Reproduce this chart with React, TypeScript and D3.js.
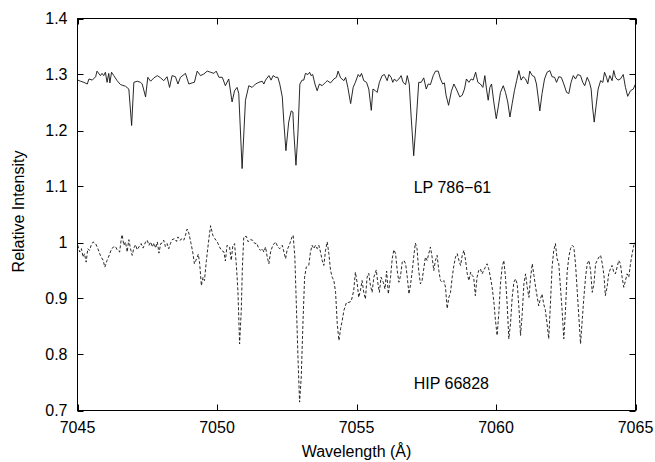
import React from "react";
import * as d3 from "d3";

// Normalised spectra: [wavelength (Å), relative intensity]
const lp78661: [number, number][] = [
  [7045.01,1.290],[7045.11,1.288],[7045.23,1.286],[7045.35,1.283],[7045.41,1.292],[7045.53,1.290],
  [7045.65,1.296],[7045.70,1.306],[7045.82,1.298],[7045.88,1.302],[7045.94,1.298],[7046.00,1.304],
  [7046.06,1.286],[7046.12,1.302],[7046.16,1.285],[7046.22,1.304],[7046.30,1.298],[7046.42,1.289],
  [7046.54,1.282],[7046.72,1.279],[7046.84,1.274],[7046.94,1.209],[7047.02,1.286],[7047.14,1.288],
  [7047.26,1.286],[7047.32,1.283],[7047.44,1.260],[7047.52,1.295],[7047.62,1.288],[7047.74,1.294],
  [7047.86,1.298],[7047.98,1.294],[7048.09,1.289],[7048.21,1.296],[7048.30,1.277],[7048.39,1.298],
  [7048.51,1.296],[7048.60,1.283],[7048.69,1.295],[7048.87,1.302],[7048.99,1.283],[7049.11,1.285],
  [7049.19,1.286],[7049.29,1.306],[7049.41,1.298],[7049.53,1.301],[7049.65,1.306],[7049.77,1.304],
  [7049.89,1.302],[7049.97,1.306],[7050.07,1.295],[7050.19,1.295],[7050.30,1.280],[7050.42,1.292],
  [7050.54,1.251],[7050.63,1.271],[7050.72,1.277],[7050.78,1.266],[7050.90,1.132],[7051.02,1.254],
  [7051.14,1.280],[7051.26,1.277],[7051.38,1.283],[7051.50,1.286],[7051.62,1.288],[7051.68,1.283],
  [7051.74,1.290],[7051.86,1.298],[7051.94,1.290],[7052.01,1.298],[7052.10,1.295],[7052.18,1.295],
  [7052.25,1.283],[7052.34,1.260],[7052.40,1.212],[7052.47,1.164],[7052.57,1.215],[7052.66,1.235],
  [7052.72,1.233],[7052.75,1.200],[7052.83,1.138],[7052.90,1.194],[7052.97,1.283],[7053.05,1.290],
  [7053.11,1.290],[7053.17,1.302],[7053.26,1.300],[7053.32,1.304],[7053.37,1.298],[7053.43,1.300],
  [7053.51,1.283],[7053.59,1.271],[7053.67,1.283],[7053.77,1.280],[7053.89,1.286],[7053.95,1.289],
  [7054.07,1.285],[7054.19,1.292],[7054.28,1.295],[7054.34,1.306],[7054.43,1.294],[7054.55,1.289],
  [7054.61,1.295],[7054.69,1.277],[7054.79,1.248],[7054.88,1.277],[7054.96,1.286],[7055.06,1.300],
  [7055.12,1.296],[7055.18,1.302],[7055.26,1.289],[7055.36,1.286],[7055.44,1.274],[7055.53,1.236],
  [7055.59,1.274],[7055.68,1.271],[7055.74,1.268],[7055.82,1.286],[7055.92,1.298],[7056.00,1.300],
  [7056.10,1.289],[7056.16,1.300],[7056.24,1.295],[7056.30,1.286],[7056.36,1.292],[7056.43,1.288],
  [7056.52,1.292],[7056.60,1.298],[7056.67,1.286],[7056.76,1.282],[7056.82,1.298],[7056.89,1.283],
  [7056.96,1.224],[7057.05,1.155],[7057.15,1.224],[7057.23,1.286],[7057.32,1.286],[7057.41,1.294],
  [7057.50,1.274],[7057.57,1.283],[7057.65,1.282],[7057.75,1.298],[7057.83,1.306],[7057.93,1.306],
  [7058.01,1.292],[7058.09,1.283],[7058.15,1.285],[7058.21,1.263],[7058.30,1.245],[7058.40,1.270],
  [7058.49,1.283],[7058.58,1.274],[7058.70,1.260],[7058.79,1.263],[7058.87,1.274],[7058.94,1.292],
  [7059.03,1.286],[7059.11,1.292],[7059.18,1.290],[7059.27,1.304],[7059.35,1.286],[7059.44,1.283],
  [7059.53,1.277],[7059.60,1.298],[7059.66,1.274],[7059.72,1.254],[7059.78,1.277],[7059.84,1.283],
  [7059.92,1.251],[7060.01,1.221],[7060.08,1.242],[7060.16,1.268],[7060.26,1.280],[7060.34,1.268],
  [7060.42,1.251],[7060.50,1.224],[7060.58,1.248],[7060.66,1.271],[7060.74,1.289],[7060.82,1.307],
  [7060.90,1.290],[7060.97,1.296],[7061.06,1.292],[7061.14,1.283],[7061.21,1.306],[7061.30,1.298],
  [7061.38,1.296],[7061.45,1.283],[7061.51,1.260],[7061.57,1.235],[7061.65,1.266],[7061.74,1.292],
  [7061.83,1.304],[7061.93,1.307],[7062.01,1.296],[7062.10,1.295],[7062.17,1.286],[7062.25,1.296],
  [7062.34,1.295],[7062.43,1.283],[7062.53,1.268],[7062.61,1.266],[7062.69,1.286],[7062.77,1.298],
  [7062.85,1.292],[7062.93,1.300],[7063.03,1.298],[7063.11,1.286],[7063.18,1.280],[7063.27,1.295],
  [7063.35,1.286],[7063.41,1.274],[7063.46,1.242],[7063.52,1.215],[7063.59,1.245],[7063.66,1.274],
  [7063.75,1.289],[7063.83,1.286],[7063.89,1.304],[7063.96,1.295],[7064.01,1.286],[7064.08,1.298],
  [7064.16,1.289],[7064.22,1.307],[7064.28,1.295],[7064.37,1.290],[7064.46,1.292],[7064.56,1.300],
  [7064.64,1.277],[7064.72,1.261],[7064.82,1.271],[7064.92,1.274],[7065.00,1.283],
];

const hip66828: [number, number][] = [
  [7045.01,0.995],[7045.08,0.983],[7045.14,0.989],[7045.20,0.974],[7045.25,0.980],[7045.31,0.965],
  [7045.37,0.989],[7045.43,0.986],[7045.49,0.995],[7045.56,1.001],[7045.65,0.998],[7045.73,0.989],
  [7045.82,0.977],[7045.92,0.968],[7045.98,0.956],[7046.06,0.968],[7046.16,0.980],[7046.22,0.989],
  [7046.30,0.992],[7046.36,0.993],[7046.42,0.987],[7046.51,0.983],[7046.57,1.007],[7046.60,1.014],
  [7046.66,0.995],[7046.72,1.001],[7046.78,0.983],[7046.84,1.005],[7046.90,0.989],[7046.96,0.977],
  [7047.02,0.990],[7047.08,0.996],[7047.14,0.987],[7047.20,0.992],[7047.28,0.998],[7047.35,0.990],
  [7047.44,1.001],[7047.50,1.004],[7047.56,0.995],[7047.62,1.001],[7047.68,0.992],[7047.74,0.999],
  [7047.80,0.990],[7047.86,1.001],[7047.92,0.981],[7047.98,0.998],[7048.03,0.999],[7048.09,1.004],
  [7048.15,0.993],[7048.21,0.998],[7048.27,0.989],[7048.33,0.998],[7048.39,1.005],[7048.48,1.007],
  [7048.55,1.002],[7048.60,1.010],[7048.67,1.004],[7048.75,1.007],[7048.81,1.004],[7048.87,1.013],
  [7048.93,1.024],[7048.99,1.017],[7049.07,0.998],[7049.13,0.983],[7049.19,0.962],[7049.27,0.971],
  [7049.33,0.979],[7049.38,0.962],[7049.44,0.923],[7049.50,0.938],[7049.55,0.932],[7049.62,0.968],
  [7049.71,1.007],[7049.77,1.030],[7049.85,1.013],[7049.92,1.007],[7050.01,1.001],[7050.09,0.992],
  [7050.16,0.986],[7050.25,0.983],[7050.30,0.967],[7050.36,0.995],[7050.45,0.992],[7050.51,0.968],
  [7050.57,0.995],[7050.63,0.998],[7050.69,0.962],[7050.75,0.914],[7050.81,0.819],[7050.87,0.879],
  [7050.91,0.956],[7050.96,1.010],[7051.05,1.011],[7051.12,1.001],[7051.20,1.005],[7051.28,1.004],
  [7051.36,0.998],[7051.42,0.999],[7051.50,0.989],[7051.56,0.986],[7051.62,0.989],[7051.68,0.983],
  [7051.74,0.992],[7051.80,0.974],[7051.86,0.962],[7051.92,0.983],[7052.00,0.995],[7052.10,1.001],
  [7052.18,0.992],[7052.25,0.989],[7052.34,0.995],[7052.40,0.983],[7052.46,0.971],[7052.51,0.986],
  [7052.61,0.998],[7052.69,1.010],[7052.73,1.013],[7052.79,0.974],[7052.85,0.879],[7052.91,0.783],
  [7052.96,0.715],[7053.02,0.760],[7053.08,0.855],[7053.14,0.938],[7053.20,0.956],[7053.29,0.959],
  [7053.35,0.983],[7053.41,0.995],[7053.47,0.989],[7053.53,0.995],[7053.59,0.989],[7053.65,0.995],
  [7053.71,0.983],[7053.77,0.968],[7053.83,0.959],[7053.89,0.986],[7053.95,1.001],[7054.01,0.980],
  [7054.07,0.950],[7054.13,0.938],[7054.19,0.932],[7054.25,0.911],[7054.31,0.855],[7054.37,0.825],
  [7054.43,0.846],[7054.49,0.861],[7054.55,0.879],[7054.64,0.893],[7054.73,0.893],[7054.81,0.895],
  [7054.90,0.914],[7054.96,0.947],[7055.02,0.929],[7055.08,0.902],[7055.14,0.914],[7055.20,0.932],
  [7055.26,0.911],[7055.32,0.899],[7055.38,0.938],[7055.44,0.945],[7055.50,0.923],[7055.56,0.911],
  [7055.62,0.938],[7055.71,0.951],[7055.76,0.929],[7055.82,0.911],[7055.88,0.938],[7055.96,0.929],
  [7056.02,0.917],[7056.08,0.949],[7056.14,0.908],[7056.22,0.938],[7056.28,0.971],[7056.34,0.987],
  [7056.40,0.980],[7056.46,0.950],[7056.52,0.929],[7056.58,0.941],[7056.64,0.965],[7056.70,0.968],
  [7056.76,0.962],[7056.82,0.938],[7056.88,0.908],[7056.94,0.926],[7057.00,0.950],[7057.05,0.974],
  [7057.11,0.999],[7057.17,0.989],[7057.23,0.950],[7057.29,0.926],[7057.35,0.932],[7057.41,0.953],
  [7057.47,0.974],[7057.53,0.968],[7057.59,0.980],[7057.65,0.992],[7057.71,0.974],[7057.77,0.950],
  [7057.83,0.968],[7057.89,0.977],[7057.95,0.950],[7058.01,0.932],[7058.07,0.929],[7058.13,0.932],
  [7058.19,0.920],[7058.25,0.882],[7058.31,0.902],[7058.37,0.911],[7058.43,0.938],[7058.49,0.959],
  [7058.55,0.974],[7058.61,0.980],[7058.67,0.968],[7058.73,0.959],[7058.79,0.977],[7058.85,0.986],
  [7058.91,0.968],[7058.97,0.944],[7059.03,0.932],[7059.09,0.947],[7059.15,0.941],[7059.20,0.938],
  [7059.26,0.905],[7059.32,0.938],[7059.38,0.950],[7059.44,0.953],[7059.50,0.944],[7059.56,0.950],
  [7059.62,0.956],[7059.68,0.962],[7059.74,0.953],[7059.80,0.938],[7059.86,0.920],[7059.92,0.896],
  [7059.98,0.861],[7060.04,0.834],[7060.10,0.873],[7060.16,0.926],[7060.22,0.956],[7060.28,0.968],
  [7060.34,0.938],[7060.40,0.890],[7060.46,0.828],[7060.52,0.855],[7060.58,0.902],[7060.64,0.929],
  [7060.70,0.935],[7060.76,0.926],[7060.82,0.885],[7060.88,0.834],[7060.94,0.873],[7061.00,0.926],
  [7061.06,0.944],[7061.12,0.920],[7061.18,0.902],[7061.24,0.938],[7061.30,0.962],[7061.36,0.941],
  [7061.42,0.920],[7061.48,0.902],[7061.53,0.887],[7061.59,0.899],[7061.65,0.908],[7061.71,0.890],
  [7061.77,0.879],[7061.83,0.855],[7061.89,0.828],[7061.95,0.890],[7062.01,0.956],[7062.07,0.986],
  [7062.13,0.998],[7062.19,0.971],[7062.25,0.962],[7062.31,0.920],[7062.37,0.879],[7062.43,0.828],
  [7062.49,0.879],[7062.55,0.947],[7062.61,0.974],[7062.67,0.989],[7062.73,0.995],[7062.79,0.992],
  [7062.85,0.962],[7062.91,0.914],[7062.97,0.867],[7063.03,0.819],[7063.09,0.861],[7063.15,0.902],
  [7063.21,0.938],[7063.27,0.962],[7063.33,0.968],[7063.39,0.950],[7063.45,0.911],[7063.51,0.926],
  [7063.57,0.962],[7063.63,0.968],[7063.69,0.974],[7063.75,0.977],[7063.81,0.962],[7063.87,0.941],
  [7063.92,0.905],[7063.98,0.920],[7064.04,0.944],[7064.10,0.953],[7064.16,0.959],[7064.22,0.947],
  [7064.28,0.944],[7064.34,0.956],[7064.40,0.968],[7064.46,0.962],[7064.52,0.938],[7064.58,0.920],
  [7064.64,0.932],[7064.70,0.944],[7064.76,0.938],[7064.82,0.962],[7064.88,0.980],[7064.94,0.995],
  [7065.00,1.001],
];

const xTicks = [7045, 7050, 7055, 7060, 7065];
const yTicks = [0.7, 0.8, 0.9, 1.0, 1.1, 1.2, 1.3, 1.4];
const seriesLabels = ["LP 786\u221261", "HIP 66828"];
const labelPositions: [number, number][] = [[7057.05, 1.097], [7057.05, 0.747]];

const W = 655;
const H = 462;
const plot = { left: 77.5, right: 635.5, top: 18.5, bottom: 410.5 };
const FONT = "'Liberation Sans', Arial, Helvetica, sans-serif";

export default function App() {
  const x = d3.scaleLinear().domain([7045, 7065]).range([plot.left, plot.right]);
  const y = d3.scaleLinear().domain([0.7, 1.4]).range([plot.bottom, plot.top]);
  const line = d3
    .line<[number, number]>()
    .x((d) => x(d[0]))
    .y((d) => y(d[1]));

  const tickLen = 6;
  const fmtY = (v: number) => String(+v.toFixed(1));

  return (
    <svg
      width={W}
      height={H}
      viewBox={`0 0 ${W} ${H}`}
      style={{ position: "absolute", left: 0, top: 0, background: "#fff" }}
      fontFamily={FONT}
    >
      <rect x={0} y={0} width={W} height={H} fill="#fff" />

      {/* spectra */}
      <path d={line(lp78661) ?? ""} fill="none" stroke="#111" strokeWidth={0.9} strokeLinejoin="round" />
      <path
        d={line(hip66828) ?? ""}
        fill="none"
        stroke="#111"
        strokeWidth={0.9}
        strokeDasharray="3,2"
        strokeLinejoin="round"
      />

      {/* ticks, mirrored on all sides, pointing inward */}
      {yTicks.map((t) => (
        <g key={"y" + t}>
          <line x1={plot.left} x2={plot.left + tickLen} y1={Math.round(y(t)) + 0.5} y2={Math.round(y(t)) + 0.5} stroke="#000" />
          <line x1={plot.right} x2={plot.right - tickLen} y1={Math.round(y(t)) + 0.5} y2={Math.round(y(t)) + 0.5} stroke="#000" />
          <text x={plot.left - 10} y={y(t) + 5.5} textAnchor="end" fontSize={16} fill="#000">
            {fmtY(t)}
          </text>
        </g>
      ))}
      {xTicks.map((t) => (
        <g key={"x" + t}>
          <line x1={Math.round(x(t)) + 0.5} x2={Math.round(x(t)) + 0.5} y1={plot.bottom} y2={plot.bottom - tickLen} stroke="#000" />
          <line x1={Math.round(x(t)) + 0.5} x2={Math.round(x(t)) + 0.5} y1={plot.top} y2={plot.top + tickLen} stroke="#000" />
          <text x={x(t)} y={plot.bottom + 22.5} textAnchor="middle" fontSize={16} fill="#000">
            {t}
          </text>
        </g>
      ))}

      {/* frame */}
      <rect
        x={plot.left}
        y={plot.top}
        width={plot.right - plot.left}
        height={plot.bottom - plot.top}
        fill="none"
        stroke="#000"
        strokeWidth={1}
      />

      {/* series names */}
      {seriesLabels.map((s, i) => (
        <text key={s} x={x(labelPositions[i][0])} y={y(labelPositions[i][1]) + 5} fontSize={16} fill="#000">
          {s}
        </text>
      ))}

      {/* axis titles */}
      <text x={(plot.left + plot.right) / 2} y={457} textAnchor="middle" fontSize={16} fill="#000">
        Wavelength (Å)
      </text>
      <text
        transform={`translate(24, ${(plot.top + plot.bottom) / 2 - 3}) rotate(-90)`}
        textAnchor="middle"
        fontSize={16}
        fill="#000"
      >
        Relative Intensity
      </text>
    </svg>
  );
}
